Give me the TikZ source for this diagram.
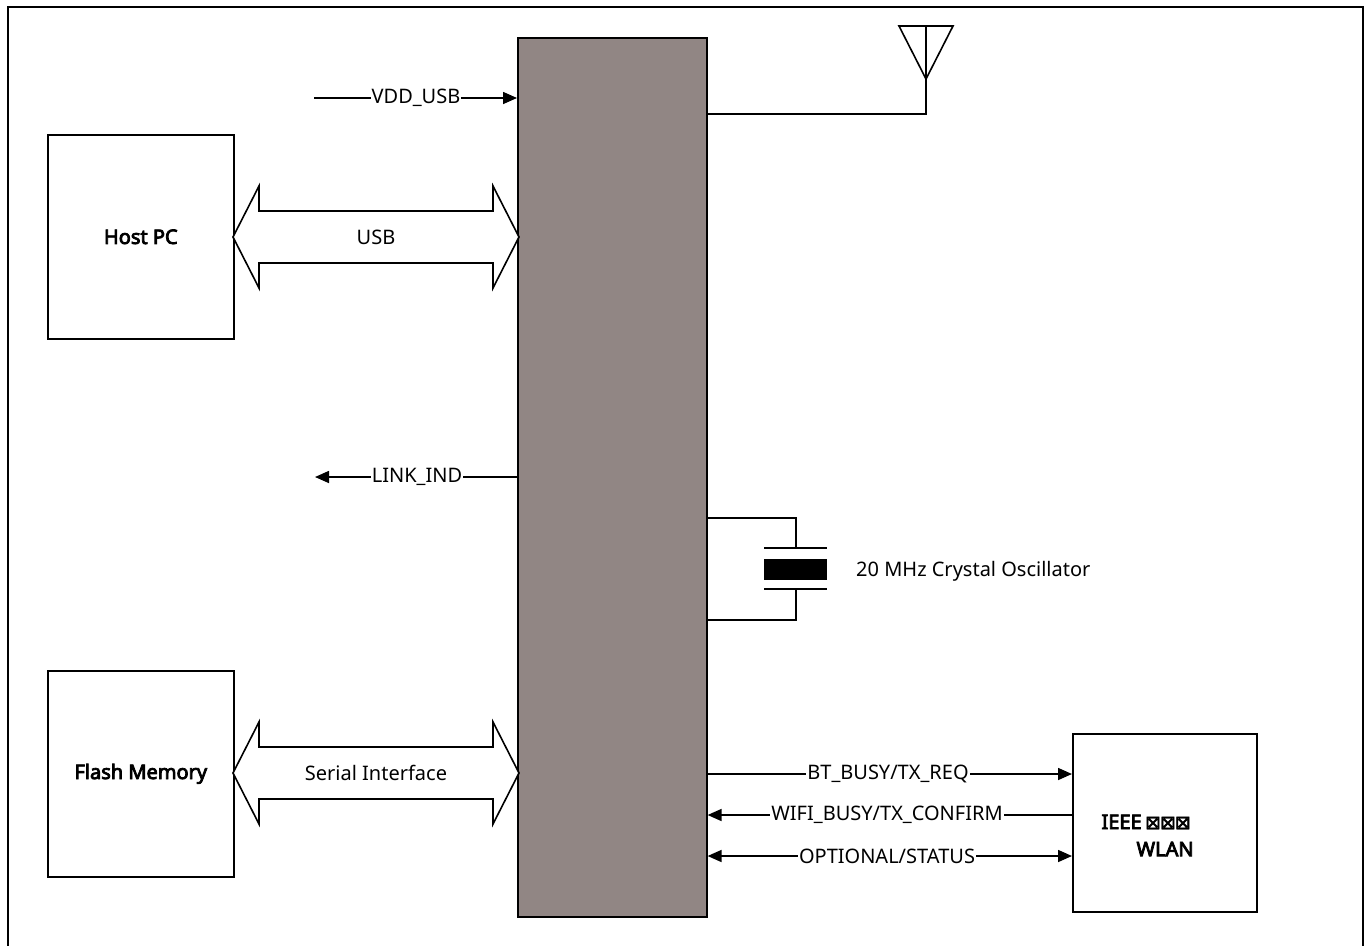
\documentclass[tikz,border=0pt]{standalone}
\usepackage{fontspec}
\setmainfont{Noto Sans}
\newfontfamily\boldlbl{Noto Sans}[FakeBold=4]
\newfontfamily\dejavu{DejaVu Sans}[FakeBold=2]
\usetikzlibrary{arrows.meta}
\definecolor{chipfill}{RGB}{145,134,132}
\begin{document}
\begin{tikzpicture}[x=1pt,y=-1pt,
  lw/.style={line width=1.6pt},
  box/.style={draw,lw,fill=white,anchor=north west,inner sep=0pt},
  lbl/.style={fill=white,inner sep=1pt,font=\fontsize{20}{22}\selectfont},
  sig/.style={lw,-{Triangle[length=14pt,width=12pt]}},
  sigb/.style={lw,{Triangle[length=14pt,width=12pt]}-{Triangle[length=14pt,width=12pt]}},
  bus/.style={lw,fill=white,line join=miter},
  btxt/.style={font=\boldlbl\fontsize{20}{22}\selectfont}]
\useasboundingbox (0,0) rectangle (1367,945);
% outer frame
\draw[line width=2pt] (8,946) -- (8,7) -- (1363,7) -- (1363,946);
% chip
\node[draw,lw,fill=chipfill,anchor=north west,minimum width=189pt,minimum height=879pt,inner sep=0pt] (chip) at (517,37) {};
% boxes
\node[box,minimum width=186pt,minimum height=204pt] (host) at (47,134) {};
\node[btxt] at (host.center) {Host PC};
\node[box,minimum width=186pt,minimum height=206pt] (flash) at (47,670) {};
\node[btxt] at (flash.center) {Flash Memory};
\node[box,minimum width=184pt,minimum height=178pt] (wlan) at (1072,733) {};
\node[btxt,anchor=west] (ieee) at (1098,822) {IEEE\,{\dejavu\fontsize{19}{20}\selectfont ⊠\kern-1pt⊠\kern-1pt⊠}};
\node[btxt,anchor=west] (wl) at (1133,849) {WLAN};
% USB bus
\draw[bus] (233,237) -- (259,186) -- (259,211) -- (493,211) -- (493,186) -- (519,237) -- (493,288) -- (493,263) -- (259,263) -- (259,288) -- cycle;
\node[lbl,fill=none] (usb) at (376,237) {USB};
% Serial bus
\draw[bus] (233,773) -- (259,722) -- (259,747) -- (493,747) -- (493,722) -- (519,773) -- (493,824) -- (493,799) -- (259,799) -- (259,824) -- cycle;
\node[lbl,fill=none] (ser) at (376,773) {Serial Interface};
% VDD_USB
\coordinate (vddS) at (314,98);
\draw[sig] (vddS) -- (chip.west |- vddS);
\node[lbl] (vdd) at (416,98) {VDD\_USB};
% LINK_IND
\coordinate (linkE) at (315,477);
\draw[sig] (chip.west |- linkE) -- (linkE);
\node[lbl] (link) at (417,477) {LINK\_IND};
% antenna
\coordinate (antTip) at (926,79);
\coordinate (antL) at (899,26);
\coordinate (antR) at (953,26);
\coordinate (antC) at (926,26);
\draw[lw,line join=miter] (chip.east |- 0,114) -- (926,114) -- (antTip);
\draw[lw,line join=miter] (antL) -- (antR) -- (antTip) -- cycle;
\draw[lw] (antC) -- (antTip);
% crystal
\draw[lw] (chip.east |- 0,518) -- (796,518) -- (796,548);
\draw[lw] (764,548) -- (827,548);
\node[fill=black,draw=none,anchor=north west,minimum width=63pt,minimum height=21pt,inner sep=0pt] (xtal) at (764,559) {};
\draw[lw] (764,589) -- (827,589);
\draw[lw] (796,589) -- (796,620) -- (chip.east |- 0,620);
\node[lbl,anchor=west,fill=none] (xl) at (855,571) {20 MHz Crystal Oscillator};
% signal lines
\draw[sig] (chip.east |- 0,774) -- (wlan.west |- 0,774);
\node[lbl] (bt) at (888,774) {BT\_BUSY/TX\_REQ};
\draw[sig] (wlan.west |- 0,815) -- (chip.east |- 0,815);
\node[lbl] (wifi) at (887,815) {WIFI\_BUSY/TX\_CONFIRM};
\draw[sigb] (chip.east |- 0,856) -- (wlan.west |- 0,856);
\node[lbl] (opt) at (887,856) {OPTIONAL/STATUS};
\end{tikzpicture}
\end{document}
